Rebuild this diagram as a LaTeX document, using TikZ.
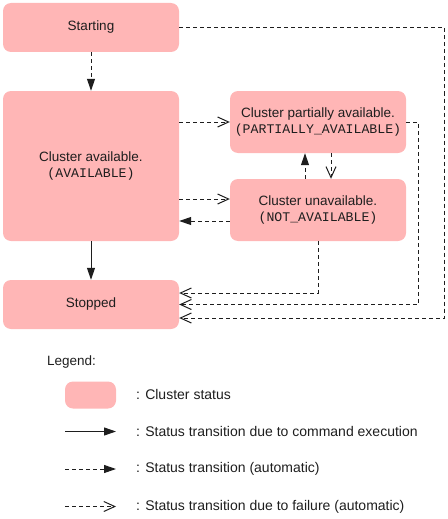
\documentclass[tikz,border=0pt]{standalone}
\usepackage{fontspec}
\setmainfont{Liberation Sans}
\setmonofont{Liberation Mono}
\usetikzlibrary{arrows.meta}
\definecolor{statefill}{RGB}{255,182,182}
\definecolor{inkgray}{RGB}{30,30,30}
\newcommand{\statecode}[1]{{\fontsize{13.2}{16}\ttfamily(#1)}}

\begin{document}
\begin{tikzpicture}[x=1pt, y=-1pt,
    status/.style={fill=statefill, rounded corners=8pt, align=center, inner sep=0pt,
        text=inkgray, font=\fontsize{13.5}{16}\selectfont},
    cmdarrow/.style={-{Triangle[length=12pt, width=8pt]}, line width=1pt, inkgray},
    autoarrow/.style={-{Triangle[length=12pt, width=8pt]}, line width=1pt, inkgray, dash pattern=on 4pt off 3pt},
    failarrow/.style={-{Straight Barb[length=11pt, width=10pt]}, line width=1pt, inkgray, dash pattern=on 4pt off 3pt},
    legendtext/.style={anchor=west, inner sep=0pt, text=inkgray, font=\fontsize{14}{16}\selectfont}]
    \useasboundingbox (0,0) rectangle (447,519);

    % cluster states
    \node [status, minimum width=176pt, minimum height=49pt] (start) at (91,27.5) {Starting};
    \node [status, minimum width=176pt, minimum height=150pt] (avail) at (91,166) {Cluster available.\\\statecode{AVAILABLE}};
    \node [status, minimum width=176pt, minimum height=49pt] (stopped) at (91,304.5) {Stopped};
    \node [status, minimum width=176pt, minimum height=62pt] (part) at (318,122) {Cluster partially available.\\\statecode{PARTIALLY\_AVAILABLE}};
    \node [status, minimum width=176pt, minimum height=62pt] (unavail) at (318,210) {Cluster unavailable.\\\statecode{NOT\_AVAILABLE}};

    % transitions
    \draw [autoarrow] (start) -- (avail);
    \draw [cmdarrow] (avail) -- (stopped);
    \draw [failarrow] (avail.east |- part.west) -- (part.west);
    \coordinate (toUnavail) at ([yshift=11pt]unavail.west);
    \coordinate (fromUnavail) at ([yshift=-11pt]unavail.west);
    \draw [failarrow] (avail.east |- toUnavail) -- (toUnavail);
    \draw [autoarrow] (fromUnavail) -- (avail.east |- fromUnavail);
    \draw [autoarrow] ([xshift=-13pt]unavail.north) -- ([xshift=-13pt]part.south);
    \draw [failarrow] ([xshift=13pt]part.south) -- ([xshift=13pt]unavail.north);
    \draw [failarrow] (unavail.south) |- ([yshift=11.5pt]stopped.east);
    \draw [failarrow] (part.east) -- ++(12,0) |- (stopped.east);
    \draw [failarrow] (start.east) -- ++(265,0) |- ([yshift=-13.5pt]stopped.east);

    % legend
    \node [legendtext, font=\fontsize{13.5}{16}\selectfont] (legend) at (47,362.5) {Legend:};
    \node [status, minimum width=51pt, minimum height=27pt] (keybox) at (90.5,395) {};
    \node [legendtext] (keyboxtext) at (136,394) {: Cluster status};
    \coordinate (cmdA) at (65,431.5);
    \coordinate (cmdB) at (116,431.5);
    \draw [cmdarrow] (cmdA) -- (cmdB);
    \node [legendtext] (cmdtext) at (136,431.5) {: Status transition due to command execution};
    \coordinate (autoA) at (65,469);
    \coordinate (autoB) at (116,469);
    \draw [autoarrow] (autoA) -- (autoB);
    \node [legendtext] (autotext) at (136,469) {: Status transition (automatic)};
    \coordinate (failA) at (65,506.5);
    \coordinate (failB) at (116,506.5);
    \draw [failarrow] (failA) -- (failB);
    \node [legendtext] (failtext) at (136,506.5) {: Status transition due to failure (automatic)};
\end{tikzpicture}
\end{document}
